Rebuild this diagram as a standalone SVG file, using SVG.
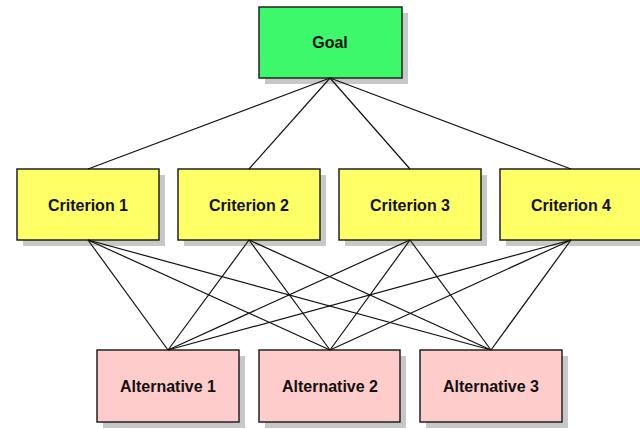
<svg xmlns="http://www.w3.org/2000/svg" width="640" height="429" viewBox="0 0 640 429">
<style>
.sh{fill:#c8c8c8}
.box{stroke:#222;stroke-width:1.5}
.goal{fill:#3cf86a}
.crit{fill:#ffff66}
.alt{fill:#ffcccc}
.lbl{font-family:"Liberation Sans",Arial,sans-serif;font-size:16px;font-weight:bold;fill:#111;text-anchor:middle;dominant-baseline:central}
.c line{stroke:#111;stroke-width:1.2}
</style>
<rect width="640" height="429" fill="#fff"/>
<g id="goal">
<rect class="sh" x="265" y="13" width="143" height="71"/>
<rect class="box goal" x="259" y="7" width="143" height="71"/>
<text class="lbl" x="330" y="42">Goal</text>
</g>
<g id="criterion1">
<rect class="sh" x="23" y="175" width="142" height="71"/>
<rect class="box crit" x="17" y="169" width="142" height="71"/>
<text class="lbl" x="88" y="205">Criterion 1</text>
</g>
<g id="criterion2">
<rect class="sh" x="184" y="175" width="142" height="71"/>
<rect class="box crit" x="178" y="169" width="142" height="71"/>
<text class="lbl" x="249" y="205">Criterion 2</text>
</g>
<g id="criterion3">
<rect class="sh" x="345" y="175" width="142" height="71"/>
<rect class="box crit" x="339" y="169" width="142" height="71"/>
<text class="lbl" x="410" y="205">Criterion 3</text>
</g>
<g id="criterion4">
<rect class="sh" x="506" y="175" width="142" height="71"/>
<rect class="box crit" x="500" y="169" width="142" height="71"/>
<text class="lbl" x="571" y="205">Criterion 4</text>
</g>
<g id="alternative1">
<rect class="sh" x="103" y="356" width="142" height="72"/>
<rect class="box alt" x="97" y="350" width="142" height="72"/>
<text class="lbl" x="168" y="386">Alternative 1</text>
</g>
<g id="alternative2">
<rect class="sh" x="265" y="356" width="141" height="72"/>
<rect class="box alt" x="259" y="350" width="141" height="72"/>
<text class="lbl" x="330" y="386">Alternative 2</text>
</g>
<g id="alternative3">
<rect class="sh" x="426" y="356" width="142" height="72"/>
<rect class="box alt" x="420" y="350" width="142" height="72"/>
<text class="lbl" x="491" y="386">Alternative 3</text>
</g>
<g class="c" id="connectors">
<line x1="330" y1="78" x2="88" y2="169"/>
<line x1="330" y1="78" x2="249" y2="169"/>
<line x1="330" y1="78" x2="410" y2="169"/>
<line x1="330" y1="78" x2="571" y2="169"/>
<line x1="88" y1="240" x2="168" y2="350"/>
<line x1="88" y1="240" x2="330" y2="350"/>
<line x1="88" y1="240" x2="491" y2="350"/>
<line x1="249" y1="240" x2="168" y2="350"/>
<line x1="249" y1="240" x2="330" y2="350"/>
<line x1="249" y1="240" x2="491" y2="350"/>
<line x1="410" y1="240" x2="168" y2="350"/>
<line x1="410" y1="240" x2="330" y2="350"/>
<line x1="410" y1="240" x2="491" y2="350"/>
<line x1="571" y1="240" x2="168" y2="350"/>
<line x1="571" y1="240" x2="330" y2="350"/>
<line x1="571" y1="240" x2="491" y2="350"/>
</g>
</svg>
